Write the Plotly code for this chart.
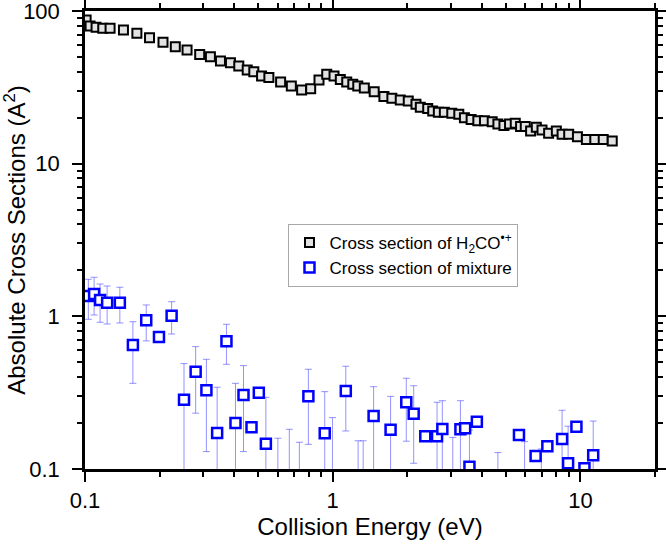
import plotly.graph_objects as go

# ---- Black series: Cross section of H2CO*+ ----
h2co_energy = [0.101, 0.1048, 0.1108, 0.1179, 0.1262, 0.1429, 0.1619, 0.1821, 0.2064, 0.2314,
               0.2581, 0.2903, 0.3207, 0.3521, 0.3864, 0.4175, 0.4515, 0.4801, 0.5160, 0.5523,
               0.6159, 0.6805, 0.7490, 0.8146, 0.8801, 0.9456, 1.012, 1.073, 1.139, 1.205,
               1.262, 1.341, 1.470, 1.609, 1.733, 1.873, 2.018, 2.168, 2.257, 2.418,
               2.533, 2.669, 2.822, 3.024, 3.228, 3.401, 3.620, 3.853, 4.098, 4.403,
               4.643, 4.911, 5.174, 5.456, 5.732, 5.988, 6.292, 6.635, 6.996, 7.441,
               7.994, 8.432, 8.966, 9.725, 10.57, 11.43, 12.36, 13.44]
h2co_sigma = [87.3, 79.8, 78.2, 77.0, 77.0, 75.1, 71.5, 66.9, 62.4, 58.4,
              55.5, 52.0, 50.2, 47.0, 45.8, 43.6, 41.1, 40.0, 37.5, 36.7,
              34.3, 32.3, 30.4, 31.0, 35.3, 38.5, 37.5, 35.6, 34.3, 33.2,
              32.3, 31.3, 29.6, 27.5, 26.8, 26.1, 25.7, 24.5, 23.4, 23.0,
              22.1, 21.7, 21.7, 21.4, 21.1, 20.0, 19.5, 19.1, 19.1, 18.8,
              18.2, 17.8, 18.2, 18.4, 17.5, 17.5, 16.4, 17.3, 16.6, 15.8,
              16.4, 15.6, 15.6, 15.0, 14.4, 14.4, 14.4, 14.1]

# ---- Blue series: Cross section of mixture (value, upper bound, lower bound) ----
mix_energy = [0.1031, 0.1088, 0.1150, 0.1228, 0.1382, 0.1560, 0.1766, 0.1988, 0.2236, 0.2509,
              0.2796, 0.3090, 0.3414, 0.3723, 0.4049, 0.4362, 0.4699, 0.5030, 0.5370, 0.6004,
              0.6678, 0.7333, 0.7973, 0.9282, 0.9972, 1.129, 1.266, 1.327, 1.462, 1.712,
              1.981, 2.122, 2.364, 2.637, 2.770, 3.052, 3.277, 3.424, 3.564, 3.818,
              4.643, 5.647, 5.950, 6.592, 6.952, 7.353, 8.432, 8.917, 9.634, 10.38,
              11.26]
mix_sigma = [1.359, 1.401, 1.279, 1.228, 1.228, 0.649, 0.942, 0.732, 1.010, 0.284,
             0.434, 0.328, 0.172, 0.686, 0.200, 0.305, 0.1876, 0.316, 0.1465, 0.08,
             0.08, 0.08, 0.299, 0.1713, 0.08, 0.324, 0.08, 0.08, 0.2225, 0.181,
             0.2735, 0.230, 0.1637, 0.1637, 0.183, 0.08, 0.182, 0.1848, 0.1035, 0.204,
             0.08, 0.167, 0.08, 0.1217, 0.08, 0.141, 0.157, 0.109, 0.189, 0.1011,
             0.1229]
mix_upper = [1.748, 1.802, 1.628, 1.580, 1.550, 0.922, 1.187, 0.732, 1.247, 0.490,
             0.633, 0.523, 0.343, 0.887, 0.364, 0.475, 0.1876, 0.316, 0.295, 0.159,
             0.182, 0.1496, 0.450, 0.321, 0.217, 0.471, 0.153, 0.153, 0.346, 0.299,
             0.393, 0.351, 0.1637, 0.2735, 0.280, 0.161, 0.280, 0.1848, 0.180, 0.204,
             0.128, 0.167, 0.151, 0.1217, 0.1352, 0.141, 0.2424, 0.1905, 0.189, 0.1011,
             0.206]
mix_lower = [0.956, 1.020, 0.914, 0.891, 0.904, 0.364, 0.690, 0.732, 0.766, 0.01,
             0.232, 0.130, 0.01, 0.485, 0.01, 0.130, 0.1876, 0.316, 0.01, 0.01,
             0.01, 0.01, 0.145, 0.01, 0.01, 0.1774, 0.01, 0.01, 0.01, 0.01,
             0.152, 0.109, 0.1637, 0.01, 0.01, 0.01, 0.01, 0.1848, 0.01, 0.204,
             0.01, 0.167, 0.01, 0.1217, 0.01, 0.141, 0.01, 0.01, 0.189, 0.01,
             0.01]

x_ticks = [0.1, 1, 10]
x_ticktext = ["0.1", "1", "10"]
y_ticks = [0.1, 1, 10, 100]
y_ticktext = ["0.1", "1", "10", "100"]

x_minor = [m * d for d in (0.1, 1, 10) for m in range(2, 10) if m * d <= 20]
y_minor = [m * d for d in (0.1, 1, 10) for m in range(2, 10)]

err_plus = [u - v for u, v in zip(mix_upper, mix_sigma)]
err_minus = [v - l for v, l in zip(mix_sigma, mix_lower)]

FONT = "Liberation Sans, Arial, sans-serif"

fig = go.Figure()
fig.add_trace(go.Scatter(
    x=h2co_energy, y=h2co_sigma, mode="markers",
    name="Cross section of H<sub>2</sub>CO<sup>•+</sup>",
    marker=dict(symbol="square", size=9, color="#e2e2e2",
                line=dict(color="black", width=2)),
))
fig.add_trace(go.Scatter(
    x=mix_energy, y=mix_sigma, mode="markers",
    name="Cross section of mixture",
    marker=dict(symbol="square", size=10, color="white",
                line=dict(color="#0000ff", width=2.5)),
    error_y=dict(type="data", symmetric=False, array=err_plus, arrayminus=err_minus,
                 color="rgba(60,60,255,0.55)", thickness=1, width=3.5),
))

axis_common = dict(
    type="log", showline=True, linecolor="black", linewidth=2.5, mirror="ticks",
    ticks="outside", ticklen=10, tickwidth=2, tickcolor="black",
    showgrid=False, zeroline=False, ticklabeloverflow="allow",
    tickfont=dict(family=FONT, size=22, color="black"),
)

fig.update_xaxes(
    **axis_common, range=[-1.0002, 1.30103], tickmode="array", tickvals=x_ticks, ticktext=x_ticktext,
    minor=dict(tickmode="array", tickvals=x_minor, ticks="outside", ticklen=5, tickwidth=2,
               tickcolor="black", showgrid=False),
    title=dict(text="Collision Energy (eV)", standoff=7,
               font=dict(family=FONT, size=24, color="black")),
)
fig.update_yaxes(
    **axis_common, range=[-1.0002, 2.0002], tickmode="array", tickvals=y_ticks, ticktext=y_ticktext,
    ticklabelstandoff=8,
    minor=dict(tickmode="array", tickvals=y_minor, ticks="outside", ticklen=5, tickwidth=2,
               tickcolor="black", showgrid=False),
    title=dict(text="Absolute Cross Sections (A<sup>2</sup>)", standoff=9,
               font=dict(family=FONT, size=24, color="black")),
)

fig.update_layout(
    width=666, height=544,
    margin=dict(l=85, r=11, t=11, b=75, autoexpand=False),
    plot_bgcolor="white", paper_bgcolor="white",
    legend=dict(x=0.357, y=0.535, xanchor="left", yanchor="top",
                bgcolor="white", bordercolor="#a8a8a8", borderwidth=1,
                tracegroupgap=0,
                font=dict(family=FONT, size=17, color="black")),
)

# remove the default 8px page margin so the figure sits at the window's corner
fig.write_html("out.html",
               config={"displayModeBar": False},
               post_script="document.body.style.margin='0';document.body.style.overflow='hidden';")
